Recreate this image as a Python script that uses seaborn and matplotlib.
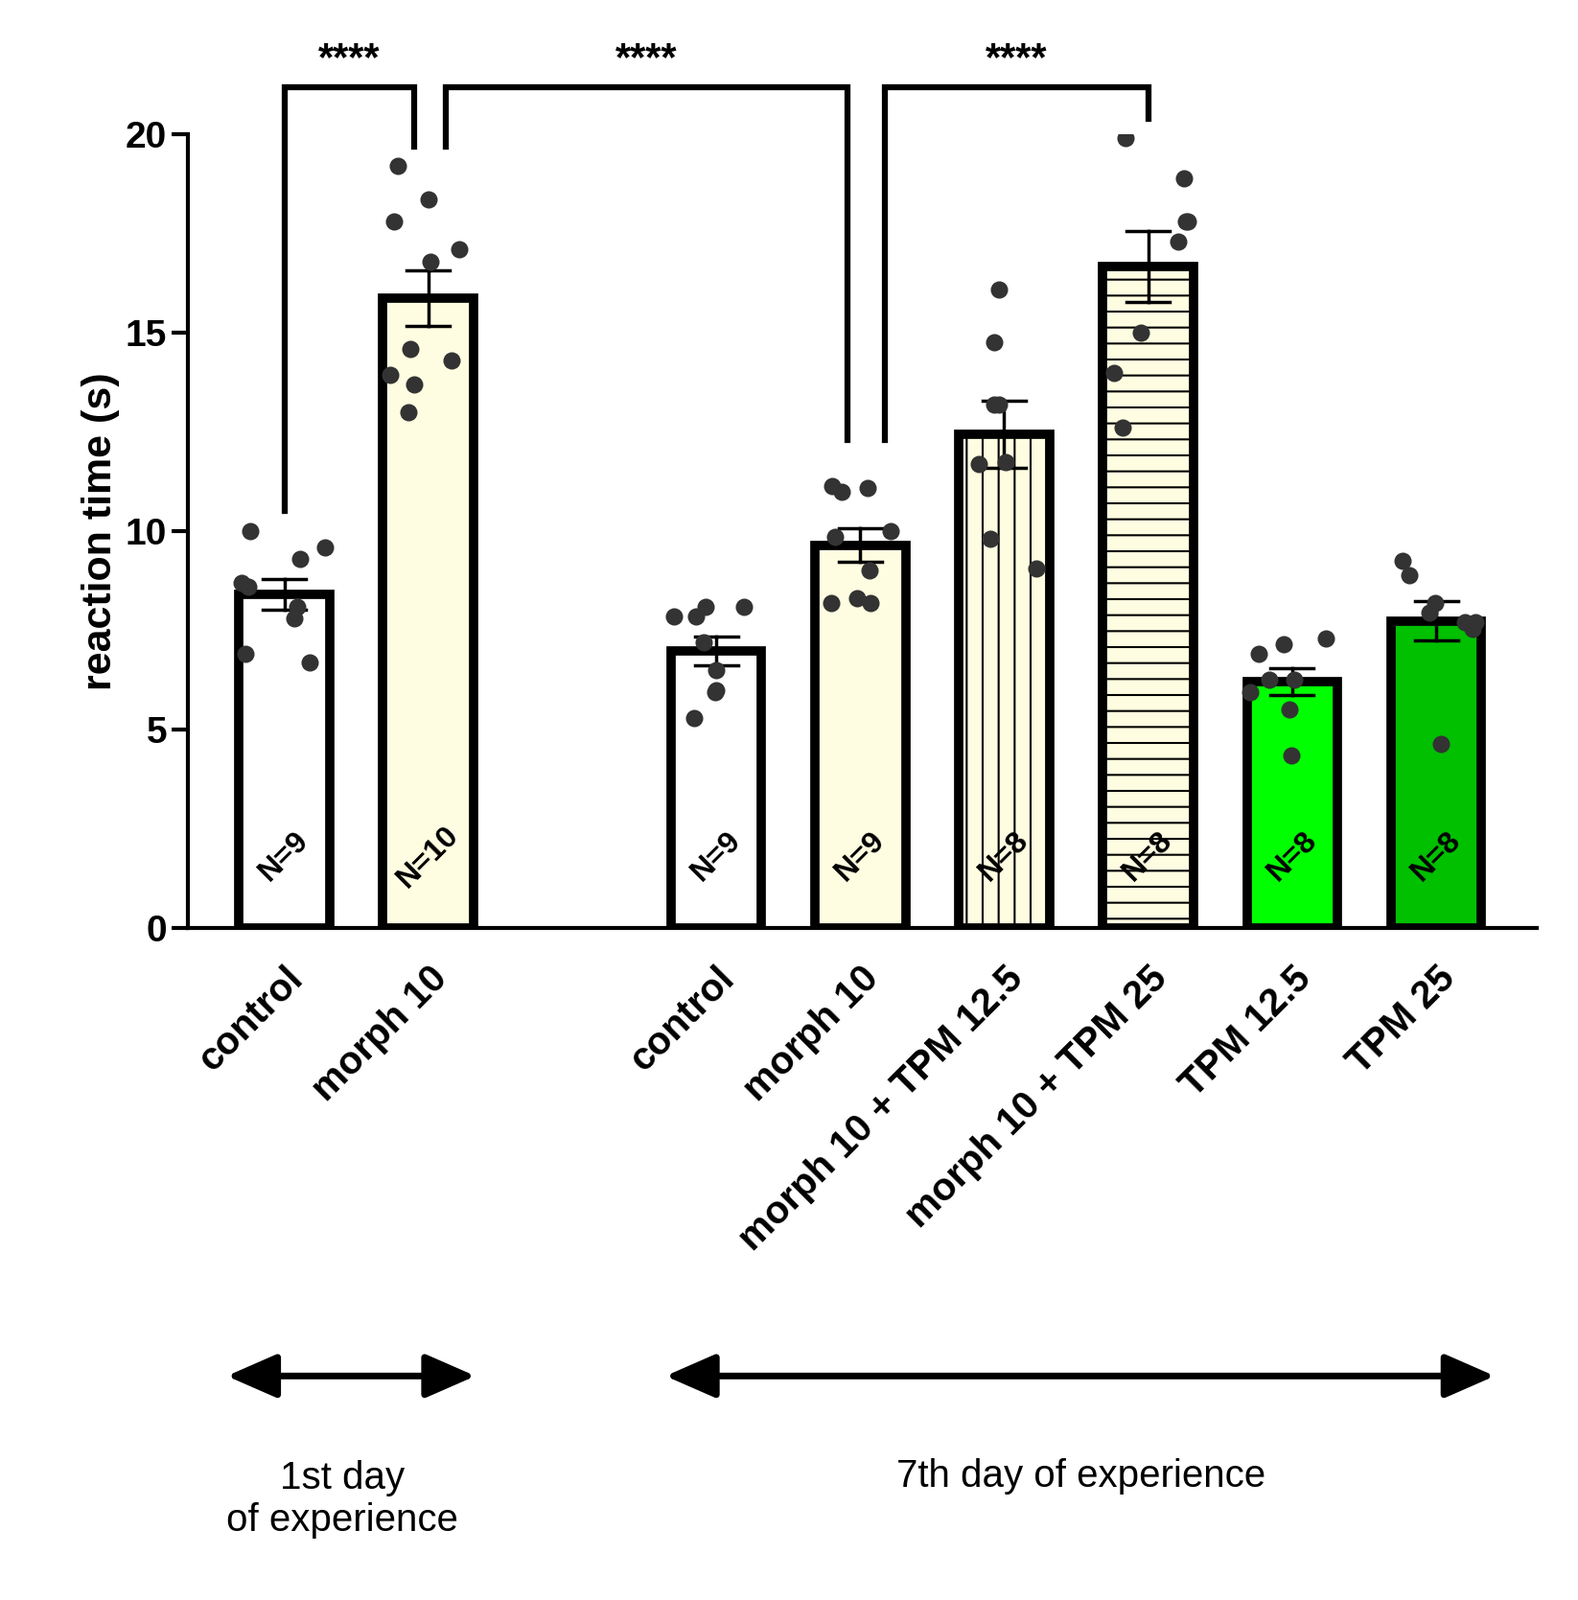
import matplotlib
matplotlib.use("Agg")
import matplotlib.pyplot as plt
import seaborn as sns
import pandas as pd
import numpy as np

plt.rcParams["font.family"] = "Liberation Sans"
plt.rcParams["hatch.linewidth"] = 1.5

groups = ["control_d1", "morph10_d1", "gap", "control_d7", "morph10_d7",
          "m10_tpm12", "m10_tpm25", "tpm12", "tpm25"]
tick_labels = ["control", "morph 10", "", "control", "morph 10",
               "morph 10 + TPM 12.5", "morph 10 + TPM 25", "TPM 12.5", "TPM 25"]
n_labels = ["N=9", "N=10", "", "N=9", "N=9", "N=8", "N=8", "N=8", "N=8"]
points = {
    "control_d1": [9.3, 9.6, 10.0, 8.1, 8.6, 7.8, 8.7, 6.7, 6.9],
    "morph10_d1": [19.2, 18.35, 17.8, 17.1, 16.8, 14.6, 14.3, 13.7, 13.0, 13.95],
    "control_d7": [8.1, 8.1, 7.85, 7.85, 7.2, 6.5, 5.95, 5.3, 6.0],
    "morph10_d7": [11.0, 11.1, 11.15, 10.0, 9.85, 9.0, 8.2, 8.3, 8.2],
    "m10_tpm12": [16.1, 14.75, 13.2, 13.2, 11.75, 11.7, 9.8, 9.05],
    "m10_tpm25": [19.9, 18.9, 17.8, 17.8, 17.3, 15.0, 14.0, 12.6],
    "tpm12": [7.3, 7.15, 6.9, 6.25, 6.25, 5.95, 5.5, 4.35],
    "tpm25": [9.25, 8.9, 8.2, 7.95, 7.7, 7.7, 7.55, 4.65],
}
colors = ["#FFFFFF", "#FFFDE1", "#FFFFFF", "#FFFFFF", "#FFFDE1",
          "#FFFDE1", "#FFFDE1", "#00FF00", "#00C000"]
hatches = ["", "", "", "", "", "|", "-", "", ""]

rows = [(g, v) for g in groups if g in points for v in points[g]]
df = pd.DataFrame(rows, columns=["group", "value"])

fig = plt.figure(figsize=(16.46, 16.69), dpi=100)
ax = fig.add_axes([0.119, 0.42, 0.855, 0.496])
sns.barplot(data=df, x="group", y="value", order=groups, estimator="mean",
            errorbar="se", width=0.63, capsize=0.3,
            err_kws={"color": "black", "linewidth": 2.5}, ax=ax)
for p in ax.patches:
    i = int(round(p.get_x() + p.get_width() / 2))
    p.set_facecolor(colors[i]); p.set_edgecolor("black"); p.set_linewidth(7)
    p.set_hatch(hatches[i]); p.set_zorder(2)
sns.stripplot(data=df, x="group", y="value", order=groups, color="#333333",
              size=13, jitter=0.3, ax=ax, zorder=5)

ax.set_ylim(0, 20)
ax.set_xlim(-0.67, 8.7)
ax.set_yticks([0, 5, 10, 15, 20])
ax.set_xticks(range(len(groups)))
ax.set_xticklabels(tick_labels, rotation=45, ha="right", rotation_mode="anchor",
                   fontsize=29, fontweight="bold")
ax.tick_params(axis="x", length=0, pad=24)
ax.tick_params(axis="y", width=3, length=12, labelsize=28)
for t in ax.get_yticklabels():
    t.set_fontweight("bold")
ax.set_xlabel("")
ax.set_ylabel("reaction time (s)", fontsize=31, fontweight="bold")
for s in ["top", "right"]:
    ax.spines[s].set_visible(False)
ax.spines["left"].set_linewidth(3)
ax.spines["bottom"].set_linewidth(3)

for i, n in enumerate(n_labels):
    if n:
        ax.text(i, 1.8, n, rotation=45, ha="center", va="center",
                fontsize=23, fontweight="bold", zorder=6)

lw = 4.5
def bracket(x1, y1, x2, y2, top, label):
    ax.plot([x1, x1, x2, x2], [y1, top, top, y2], color="black", lw=lw,
            clip_on=False, solid_joinstyle="miter")
    ax.text((x1 + x2) / 2, top + 0.2, label, ha="center", va="bottom",
            fontsize=30, fontweight="bold", clip_on=False)
bracket(0, 10.5, 0.9, 19.7, 21.2, "****")
bracket(1.12, 19.7, 3.91, 12.3, 21.2, "****")
bracket(4.17, 12.3, 6.0, 20.4, 21.2, "****")

arrow = dict(arrowstyle="<|-|>,head_length=1.6,head_width=0.7", lw=5, color="black")
fig.patches.append(matplotlib.patches.FancyArrowPatch((0.142, 0.14), (0.303, 0.14),
                   transform=fig.transFigure, mutation_scale=20, **arrow))
fig.patches.append(matplotlib.patches.FancyArrowPatch((0.42, 0.14), (0.949, 0.14),
                   transform=fig.transFigure, mutation_scale=20, **arrow))
fig.text(0.217, 0.063, "1st day\nof experience", ha="center", va="center",
         fontsize=29, linespacing=1.2)
fig.text(0.685, 0.077, "7th day of experience", ha="center", va="center", fontsize=29)

fig.savefig("out.png", dpi=100)
